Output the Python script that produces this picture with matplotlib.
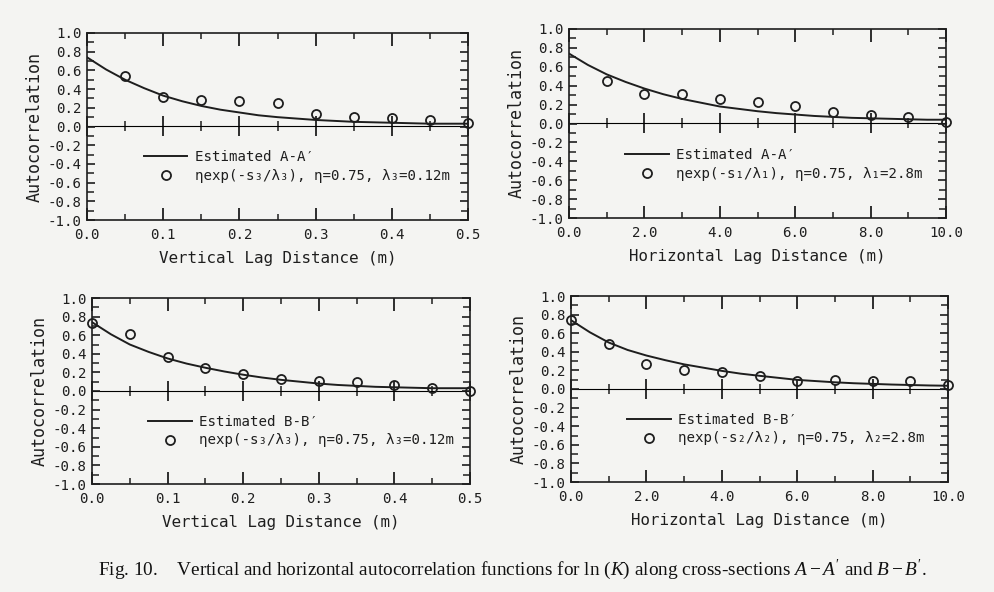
import matplotlib
matplotlib.use("Agg")
import matplotlib.pyplot as plt
from matplotlib.ticker import MultipleLocator, NullFormatter
import numpy as np

# ---------------- data ----------------
# Vertical lag panels
v_lag_obs = [0.05, 0.10, 0.15, 0.20, 0.25, 0.30, 0.35, 0.40, 0.45, 0.50]
aa_v_obs = [0.545, 0.316, 0.287, 0.270, 0.247, 0.135, 0.105, 0.090, 0.065, 0.036]
bb_v_lag_obs = [0.0, 0.05, 0.10, 0.15, 0.20, 0.25, 0.30, 0.35, 0.40, 0.45, 0.50]
bb_v_obs = [0.735, 0.615, 0.370, 0.252, 0.180, 0.133, 0.110, 0.097, 0.068, 0.036, 0.005]

v_lag_curve = [0.0, 0.025, 0.05, 0.075, 0.10, 0.125, 0.15, 0.175, 0.20, 0.225, 0.25,
               0.275, 0.30, 0.325, 0.35, 0.375, 0.40, 0.425, 0.45, 0.475, 0.50]
aa_v_curve = [0.74, 0.61, 0.50, 0.41, 0.33, 0.27, 0.22, 0.18, 0.15, 0.12, 0.10,
              0.085, 0.07, 0.06, 0.05, 0.045, 0.04, 0.035, 0.03, 0.03, 0.03]
bb_v_curve = [0.74, 0.61, 0.50, 0.42, 0.35, 0.295, 0.25, 0.21, 0.175, 0.145, 0.12,
              0.10, 0.08, 0.065, 0.055, 0.045, 0.04, 0.035, 0.03, 0.03, 0.03]

# Horizontal lag panels
h_lag_obs = [1, 2, 3, 4, 5, 6, 7, 8, 9, 10]
aa_h_obs = [0.449, 0.307, 0.307, 0.254, 0.230, 0.184, 0.117, 0.088, 0.064, 0.018]
bb_h_lag_obs = [0, 1, 2, 3, 4, 5, 6, 7, 8, 9, 10]
bb_h_obs = [0.738, 0.486, 0.266, 0.202, 0.188, 0.142, 0.082, 0.100, 0.082, 0.082, 0.046]

h_lag_curve = [0.0, 0.5, 1.0, 1.5, 2.0, 2.5, 3.0, 3.5, 4.0, 4.5, 5.0,
               5.5, 6.0, 6.5, 7.0, 7.5, 8.0, 8.5, 9.0, 9.5, 10.0]
aa_h_curve = [0.74, 0.62, 0.52, 0.44, 0.37, 0.31, 0.26, 0.22, 0.18, 0.155, 0.13,
              0.11, 0.095, 0.08, 0.07, 0.06, 0.055, 0.05, 0.045, 0.04, 0.04]
bb_h_curve = [0.74, 0.61, 0.50, 0.42, 0.36, 0.31, 0.265, 0.23, 0.195, 0.165, 0.142,
              0.12, 0.098, 0.085, 0.072, 0.062, 0.055, 0.048, 0.043, 0.038, 0.035]

labels_line = ["Estimated A-A\u2032", "Estimated A-A\u2032", "Estimated B-B\u2032", "Estimated B-B\u2032"]
labels_pts = ["\u03b7exp(-s\u2083/\u03bb\u2083), \u03b7=0.75, \u03bb\u2083=0.12m",
              "\u03b7exp(-s\u2081/\u03bb\u2081), \u03b7=0.75, \u03bb\u2081=2.8m",
              "\u03b7exp(-s\u2083/\u03bb\u2083), \u03b7=0.75, \u03bb\u2083=0.12m",
              "\u03b7exp(-s\u2082/\u03bb\u2082), \u03b7=0.75, \u03bb\u2082=2.8m"]
xlabels = ["Vertical Lag Distance (m)", "Horizontal Lag Distance (m)",
           "Vertical Lag Distance (m)", "Horizontal Lag Distance (m)"]
ylabel = "Autocorrelation"
yticks = [-1.0, -0.8, -0.6, -0.4, -0.2, 0.0, 0.2, 0.4, 0.6, 0.8, 1.0]
caption = (r"Fig. 10.    Vertical and horizontal autocorrelation functions for ln ($K$) "
           r"along cross-sections $A-A'$ and $B-B'$.")

# ---------------- style ----------------
BG = "#f4f4f2"
INK = "#1e1e1e"
plt.rcParams["font.family"] = ["DejaVu Sans Mono", "DejaVu Sans"]
plt.rcParams["mathtext.fontset"] = "custom"
plt.rcParams["mathtext.rm"] = "Liberation Serif"
plt.rcParams["mathtext.it"] = "Liberation Serif:italic"

fig = plt.figure(figsize=(9.94, 5.92), dpi=100, facecolor=BG)

positions = [
    [87 / 994, 1 - 220 / 592, 381 / 994, 187 / 592],
    [569 / 994, 1 - 218 / 592, 377 / 994, 189 / 592],
    [92 / 994, 1 - 484 / 592, 378 / 994, 186 / 592],
    [571 / 994, 1 - 482 / 592, 377 / 994, 186 / 592],
]

panels = [
    (v_lag_curve, aa_v_curve, v_lag_obs, aa_v_obs, 0.5, 0.1, 0.05),
    (h_lag_curve, aa_h_curve, h_lag_obs, aa_h_obs, 10.0, 2.0, 1.0),
    (v_lag_curve, bb_v_curve, bb_v_lag_obs, bb_v_obs, 0.5, 0.1, 0.05),
    (h_lag_curve, bb_h_curve, bb_h_lag_obs, bb_h_obs, 10.0, 2.0, 1.0),
]

for i, (pos, (xc, yc, xo, yo, xmax, xmaj, xmin)) in enumerate(zip(positions, panels)):
    ax = fig.add_axes(pos)
    ax.set_facecolor(BG)
    ax.set_xlim(0, xmax)
    ax.set_ylim(-1.0, 1.0)

    ln, = ax.plot(xc, yc, color=INK, lw=1.4, label=labels_line[i], zorder=3)
    pts, = ax.plot(xo, yo, linestyle="none", marker="o", ms=6.5, mfc="none",
                   mec=INK, mew=1.3, label=labels_pts[i], zorder=4, clip_on=False)

    for sp in ax.spines.values():
        sp.set_linewidth(1.2)
        sp.set_color(INK)
    xt = [round(k * xmaj, 3) for k in range(int(round(xmax / xmaj)) + 1)]
    ax.set_xticks(xt)
    ax.set_xticklabels(["{:.1f}".format(v) for v in xt])
    ax.xaxis.set_minor_locator(MultipleLocator(xmin))
    ax.set_yticks(yticks)
    ax.set_yticklabels(["{:.1f}".format(v) for v in yticks])
    ax.yaxis.set_minor_locator(MultipleLocator(0.1))
    ax.tick_params(which="both", direction="in", top=True, right=True, color=INK,
                   labelsize=10.2, labelcolor=INK)
    ax.tick_params(axis="x", which="major", length=9, width=1.3, pad=6)
    ax.tick_params(axis="x", which="minor", length=4, width=1.1)
    ax.tick_params(axis="y", which="major", length=6, width=1.2, pad=4)
    ax.tick_params(axis="y", which="minor", length=5, width=1.1)

    # zero line with crossing ticks
    zx = ax.secondary_xaxis(0.5)
    zx.set_xticks(xt)
    zx.xaxis.set_minor_locator(MultipleLocator(xmin))
    zx.xaxis.set_major_formatter(NullFormatter())
    zx.tick_params(which="major", direction="inout", length=14, width=1.3, color=INK)
    zx.tick_params(which="minor", direction="inout", length=7, width=1.1, color=INK)
    zx.spines["bottom"].set_linewidth(1.5)
    zx.spines["bottom"].set_color(INK)

    ax.set_xlabel(xlabels[i], fontsize=11.4, color=INK, labelpad=6)
    ax.set_ylabel(ylabel, fontsize=12, color=INK, labelpad=3)

    leg = ax.legend(handles=[ln, pts], loc="center left", bbox_to_anchor=(0.115, 0.285),
                    frameon=False, fontsize=10.2, handlelength=3.1, handletextpad=0.5,
                    labelspacing=0.35)
    for t in leg.get_texts():
        t.set_color(INK)

fig.text(98 / 994, 1 - 570 / 592, caption, fontsize=13.9, family="Liberation Serif",
         color="#111111", ha="left", va="center")

fig.savefig("out.png", dpi=100, facecolor=BG)
